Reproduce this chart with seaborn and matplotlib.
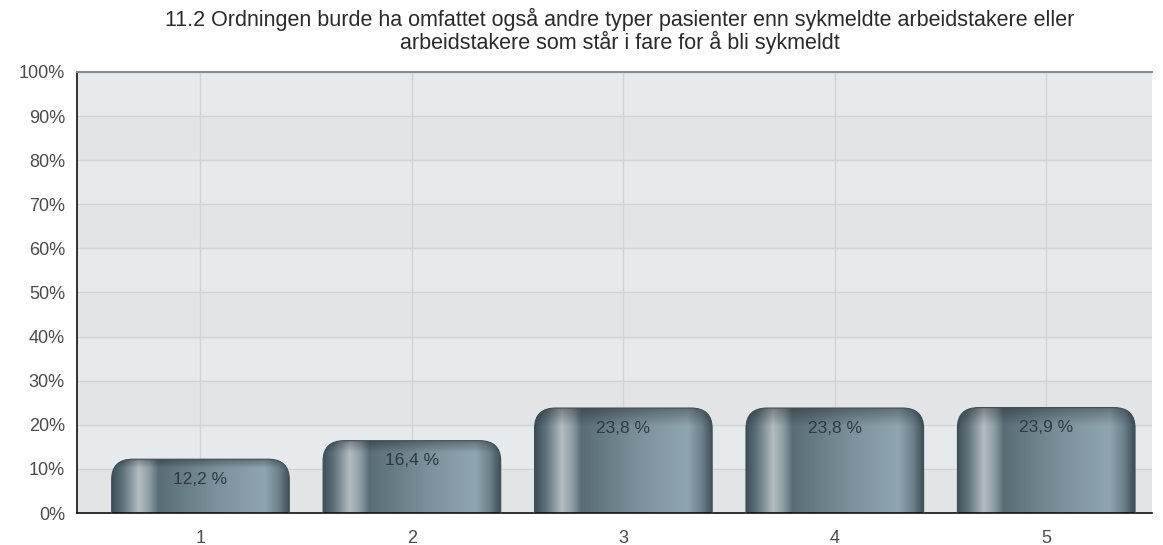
import matplotlib
matplotlib.use('Agg')
import matplotlib.pyplot as plt
import seaborn as sns
import numpy as np
import pandas as pd
from matplotlib.patches import FancyBboxPatch
from matplotlib.colors import LinearSegmentedColormap

# ------------------ DATA ------------------
categories = ["1", "2", "3", "4", "5"]
values = [12.2, 16.4, 23.8, 23.8, 23.9]
labels = ["12,2 %", "16,4 %", "23,8 %", "23,8 %", "23,9 %"]
title = ("11.2 Ordningen burde ha omfattet også andre typer pasienter enn sykmeldte arbeidstakere eller\n"
         "arbeidstakere som står i fare for å bli sykmeldt")

df = pd.DataFrame({"kategori": categories, "andel": values})

sns.set_style("white")
plt.rcParams['font.family'] = ['Liberation Sans', 'DejaVu Sans']

fig = plt.figure(figsize=(11.63, 5.45), dpi=100)
ax = fig.add_axes([0.066, 0.0587, 0.9245, 0.8093])
ax.set_facecolor("#e7eaed")

sns.barplot(data=df, x="kategori", y="andel", color="#7f949e", width=0.84, ax=ax, zorder=2)
bars = list(ax.patches)

# alternating bands
for i, lo in enumerate(range(0, 100, 10)):
    if i % 2 == 0:
        ax.axhspan(lo, lo + 10, color="#e3e4e6", zorder=0, lw=0)

# metallic gradient for bars
cmap = LinearSegmentedColormap.from_list("metal", [
    (0.00, "#3f4f58"), (0.06, "#5f727c"), (0.15, "#b3bcc1"), (0.21, "#8c9ca4"),
    (0.26, "#5a6d77"), (0.60, "#7d929c"), (0.86, "#8fa5af"), (0.94, "#6b808a"),
    (1.00, "#3e4e57")])
grad = np.linspace(0, 1, 256)
xs = np.tile(grad, (64, 1))
rgb = cmap(xs)[..., :3]
yy = np.linspace(0, 1, 64)[:, None]
shade = 1 - 0.3 * np.clip(1 - yy * 6, 0, 1)
rgb = rgb * shade[..., None]

rx, ry = 0.1, 4.6
for p, lab in zip(bars, labels):
    x0, w, h = p.get_x(), p.get_width(), p.get_height()
    p.set_visible(False)
    box = FancyBboxPatch((x0 + rx, -10 + ry), w - 2 * rx, h + 10 - 2 * ry,
                         boxstyle=f"round,pad={rx}", mutation_aspect=ry / rx,
                         fc="none", ec="#3e4e57", lw=0.8, zorder=3)
    ax.add_patch(box)
    img = ax.imshow(rgb, extent=(x0, x0 + w, 0, h), origin="upper",
                    aspect="auto", zorder=2.5)
    img.set_clip_path(box)
    ax.text(x0 + w / 2, h - 4.6, lab, ha="center", va="center",
            fontsize=12.5, color="#2c3a42", zorder=4)

ax.set_xlim(-0.585, 4.5)
ax.set_ylim(0, 100)
ax.set_yticks(range(0, 101, 10))
ax.set_yticklabels([f"{v}%" for v in range(0, 101, 10)])
ax.grid(True, axis="both", color="#d2d5d8", lw=1, zorder=1)
ax.set_axisbelow(True)
ax.set_xlabel("")
ax.set_ylabel("")
ax.tick_params(axis="both", which="both", length=5, width=1, color="#222222",
               labelsize=13, labelcolor="#4a4a4a", direction="out")
ax.tick_params(axis="x", pad=7)
for s in ["left", "bottom"]:
    ax.spines[s].set_color("#111111")
    ax.spines[s].set_linewidth(1.2)
ax.spines["top"].set_color("#8a8a8a")
ax.spines["top"].set_linewidth(1.5)
ax.spines["right"].set_visible(False)

fig.text(0.533, 0.985, title, ha="center", va="top", fontsize=15.5,
         color="#2a2a2a", linespacing=1.0)

plt.savefig("out.png", dpi=100)
